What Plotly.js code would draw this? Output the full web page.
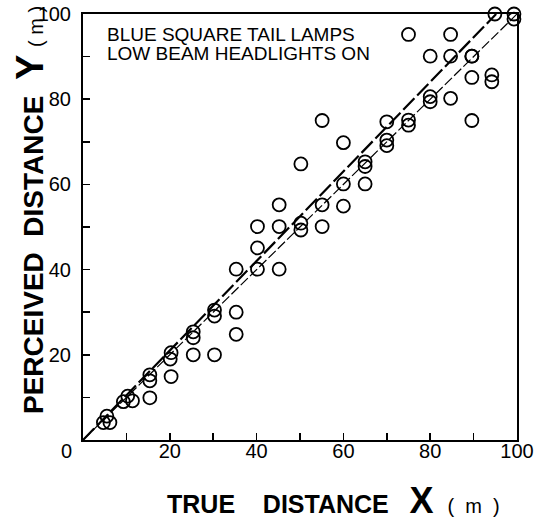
<!DOCTYPE html>
<html>
<head>
<meta charset="utf-8">
<script src="https://cdn.plot.ly/plotly-3.0.1.min.js"></script>
<style>html,body{margin:0;padding:0;background:#fff;}#chart{width:546px;height:521px;}</style>
</head>
<body>
<div id="chart"></div>
<script>
// True distance X (m) of each observation
const trueX = [
  4.7, 5.5, 6.2,
  9.3, 10.3, 11.4,
  15.4, 15.4, 15.4,
  20.3, 20.1, 20.3,
  25.4, 25.4, 25.4,
  30.3, 30.3, 30.3,
  35.3, 35.3, 35.3,
  40.2, 40.2, 40.2,
  45.2, 45.2, 45.2,
  50.2, 50.2, 50.2,
  55.1, 55.1, 55.1,
  60, 60, 60,
  65, 65, 65,
  70, 70, 70,
  75, 75, 75,
  80, 80, 80,
  84.7, 84.7, 84.7,
  89.6, 89.6, 89.6, 89.6,
  94.2, 94.2, 94.9,
  99.3, 99.3
];
// Perceived distance Y (m) of each observation
const perceivedY = [
  4.1, 5.6, 4.1,
  9.0, 10.3, 9.2,
  9.9, 13.9, 15.3,
  14.9, 19.0, 20.5,
  20.0, 24.0, 25.4,
  20.0, 29.1, 30.5,
  24.8, 30.0, 40.1,
  40.1, 45.1, 50.1,
  40.1, 50.1, 55.2,
  49.3, 50.9, 64.8,
  50.1, 55.2, 75.0,
  54.9, 60.1, 69.8,
  60.1, 64.2, 65.3,
  69.1, 70.4, 74.7,
  73.9, 75.1, 95.2,
  79.4, 80.6, 90.1,
  80.2, 90.1, 95.2,
  75.0, 85.1, 90.1, 90.1,
  84.1, 85.7, 100,
  98.8, 100
];
// Line Y = X
const identX = [0, 100];
const identY = [0, 100];
// Fitted line
const fitX = [0, 95.2];
const fitY = [0, 100];

const tickVals = [0, 20, 40, 60, 80, 100];
const tickText = ['', '20', '40', '60', '80', '100'];

const FONT = 'Liberation Sans, Arial, sans-serif';
const NB = '\u00A0';

const traces = [
  {x: identX, y: identY, mode: 'lines', type: 'scatter', hoverinfo: 'skip',
   line: {color: '#000', width: 1.2, dash: '10px,3px'}, cliponaxis: false},
  {x: fitX, y: fitY, mode: 'lines', type: 'scatter', hoverinfo: 'skip',
   line: {color: '#000', width: 2.2, dash: '16px,4px'}, cliponaxis: false},
  {x: trueX, y: perceivedY, mode: 'markers', type: 'scatter', cliponaxis: false,
   marker: {symbol: 'circle-open', size: 13, color: '#000', line: {color: '#000', width: 1.8}}}
];

const axisCommon = {
  range: [0, 100], showgrid: false, zeroline: false,
  showline: true, linecolor: '#000', linewidth: 2, mirror: true,
  ticks: 'inside', ticklen: 7, tickwidth: 1.5, tickcolor: '#000',
  tickmode: 'array', tickvals: tickVals, ticktext: tickText,
  minor: {dtick: 10, tick0: 0, ticks: 'inside', ticklen: 7, tickwidth: 1.5, tickcolor: '#000'},
  tickfont: {family: FONT, size: 20, color: '#000'},
  fixedrange: true
};

const xTitle = '<b>TRUE' + NB.repeat(4) + 'DISTANCE' + NB.repeat(3) +
  '<span style="font-size:36px">X</span></b>' + NB.repeat(2) +
  '<span style="font-size:20px">(' + NB.repeat(2) + 'm' + NB.repeat(2) + ')</span>';
const yTitle = '<b>PERCEIVED' + NB.repeat(2) + 'DISTANCE' + NB.repeat(2) +
  '<span style="font-size:38px">Y</span></b>' + NB +
  '<span style="font-size:20px">(' + NB + 'm' + NB + ')</span>';

const layout = {
  width: 546, height: 521,
  margin: {l: 83, r: 29, t: 14, b: 81},
  paper_bgcolor: '#fff', plot_bgcolor: '#fff',
  showlegend: false,
  xaxis: Object.assign({}, axisCommon, {ticklabelstandoff: -8}),
  yaxis: Object.assign({}, axisCommon, {ticklabelstandoff: 6}),
  annotations: [
    {xref: 'paper', yref: 'paper', x: 0.05, y: 0.952, xanchor: 'left', yanchor: 'middle',
     showarrow: false, text: 'BLUE SQUARE TAIL LAMPS',
     font: {family: FONT, size: 19, color: '#000'}},
    {xref: 'paper', yref: 'paper', x: 0.05, y: 0.908, xanchor: 'left', yanchor: 'middle',
     showarrow: false, text: 'LOW BEAM HEADLIGHTS ON',
     font: {family: FONT, size: 19, color: '#000'}},
    {xref: 'paper', yref: 'paper', x: -0.039, y: -0.026, xanchor: 'center', yanchor: 'middle',
     showarrow: false, text: '0',
     font: {family: FONT, size: 20, color: '#000'}},
    {xref: 'paper', yref: 'paper', x: 0.578, y: -0.141, xanchor: 'center', yanchor: 'middle',
     showarrow: false, text: xTitle,
     font: {family: FONT, size: 25, color: '#000'}},
    {xref: 'paper', yref: 'paper', x: -0.122, y: 0.54, xanchor: 'center', yanchor: 'middle',
     showarrow: false, textangle: -90, text: yTitle,
     font: {family: FONT, size: 28, color: '#000'}}
  ]
};

Plotly.newPlot('chart', traces, layout, {displayModeBar: false, staticPlot: true});
</script>
</body>
</html>
